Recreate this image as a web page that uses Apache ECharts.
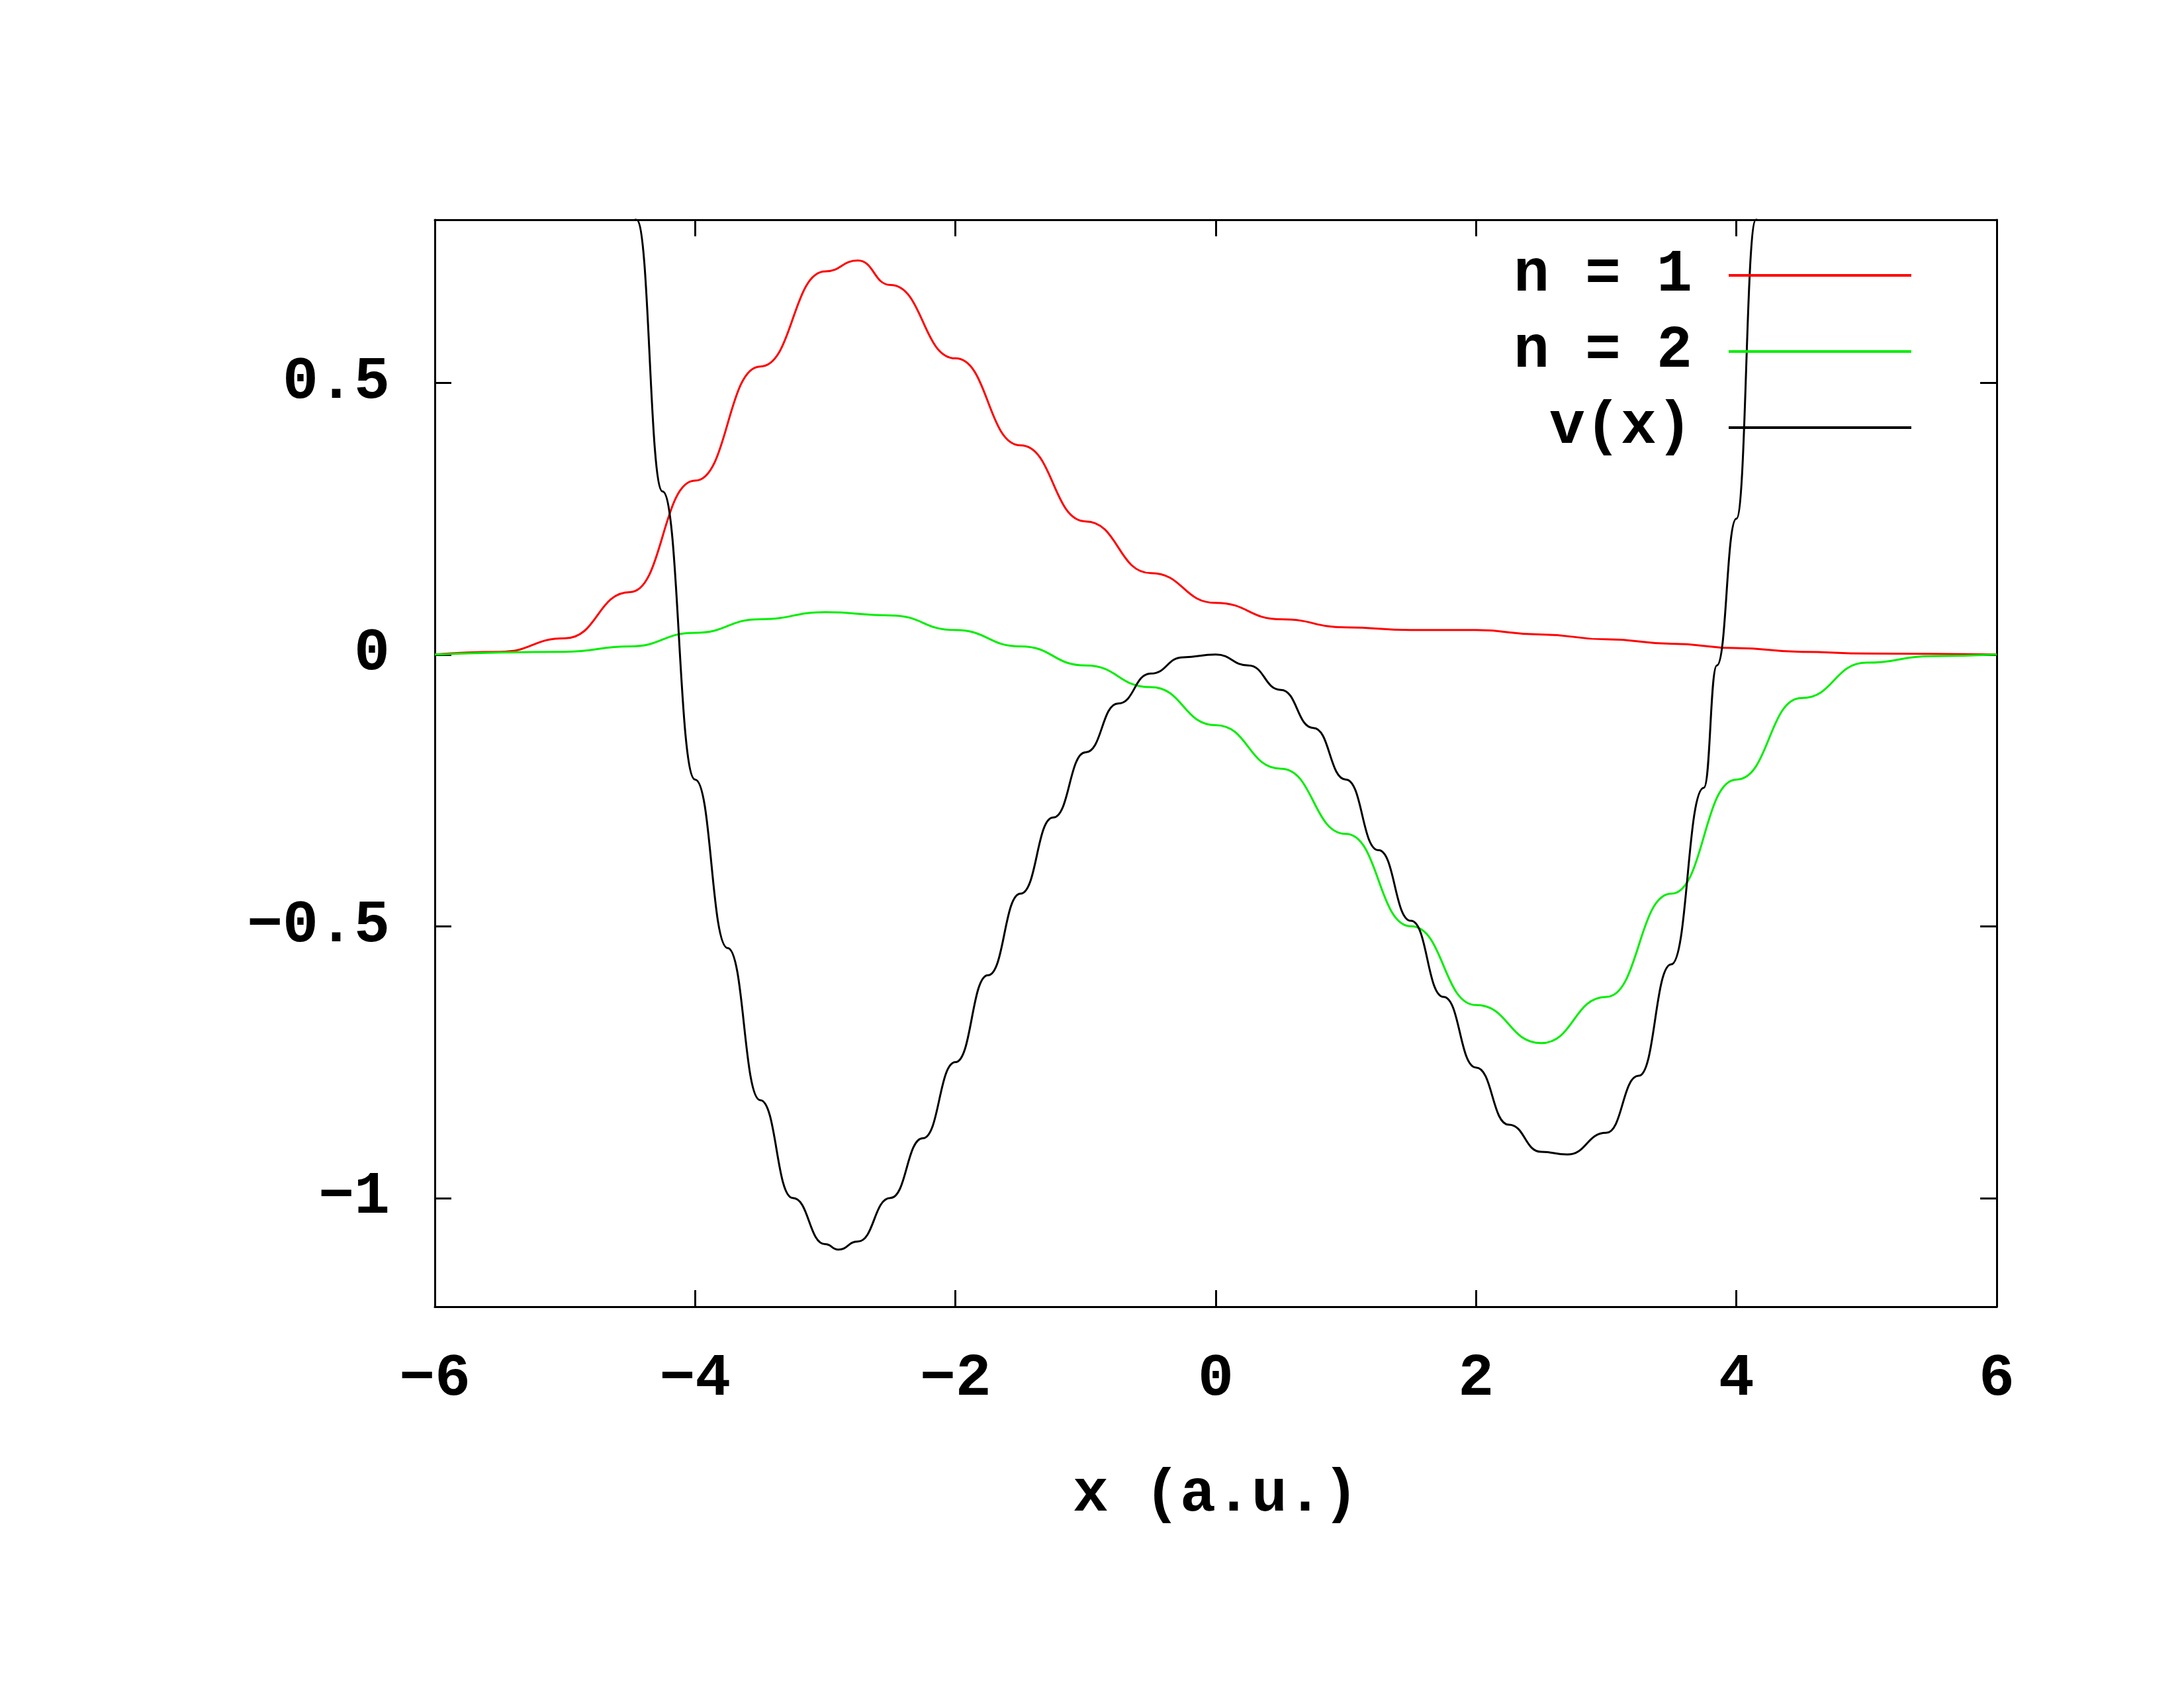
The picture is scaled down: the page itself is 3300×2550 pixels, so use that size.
<!DOCTYPE html>
<html>
<head>
<meta charset="utf-8" />
<title>wavefunctions</title>
<script src="https://cdn.jsdelivr.net/npm/echarts@6/dist/echarts.min.js"></script>
</head>
<body style="margin:0;background:#fff;">
<div id="chart" style="width:3300px;height:2550px;"></div>
<script>
// values
var xN1 = [-6, -5.5, -5, -4.5, -4, -3.5, -3, -2.75, -2.5, -2, -1.5, -1, -0.5, 0, 0.5, 1, 1.5, 2, 2.5, 3, 3.5, 4, 4.5, 5, 6];
var yN1 = [0, 0.005, 0.03, 0.115, 0.32, 0.53, 0.705, 0.725, 0.68, 0.545, 0.385, 0.245, 0.15, 0.095, 0.065, 0.05, 0.045, 0.045, 0.037, 0.028, 0.02, 0.012, 0.005, 0.002, 0];

var xN2 = [-6, -5, -4.5, -4, -3.5, -3, -2.5, -2, -1.5, -1, -0.5, 0, 0.5, 1, 1.5, 2, 2.5, 3, 3.5, 4, 4.5, 5, 5.5, 6];
var yN2 = [0, 0.005, 0.015, 0.04, 0.065, 0.078, 0.072, 0.045, 0.015, -0.02, -0.06, -0.13, -0.21, -0.33, -0.5, -0.645, -0.715, -0.63, -0.44, -0.23, -0.08, -0.015, -0.003, 0];

var xV = [-4.55, -4.45, -4.25, -4, -3.75, -3.5, -3.25, -3, -2.9, -2.75, -2.5, -2.25, -2, -1.75, -1.5, -1.25, -1, -0.75, -0.5, -0.25, 0, 0.25, 0.5, 0.75, 1, 1.25, 1.5, 1.75, 2, 2.25, 2.5, 2.7, 3, 3.25, 3.5, 3.75, 3.85, 4, 4.15, 4.22];
var yV = [1.0, 0.8, 0.3, -0.23, -0.54, -0.82, -1.0, -1.085, -1.095, -1.08, -1.0, -0.89, -0.75, -0.59, -0.44, -0.3, -0.18, -0.09, -0.035, -0.005, 0, -0.02, -0.065, -0.135, -0.23, -0.36, -0.49, -0.63, -0.76, -0.865, -0.915, -0.92, -0.88, -0.775, -0.57, -0.245, -0.02, 0.25, 0.8, 1.0];

var yTicks = [-1, -0.5, 0, 0.5];
var xTicks = [-6, -4, -2, 0, 2, 4, 6];

function pairs(xs, ys) {
	var out = [];
	for (var i = 0; i < xs.length; i++) out.push([xs[i], ys[i]]);
	return out;
}

var font = 'Liberation Mono';
var fs = 90;
var lineAx = {show: true, onZero: false, lineStyle: {color: '#000', width: 3}};
function minus(v) { return String(v).replace('-', '\u2212'); }

var myChart = echarts.init(document.getElementById('chart'));
var option = {
	backgroundColor: '#fff',
	animation: false,
	grid: {left: 657, top: 332, width: 2360, height: 1642},
	legend: {
		right: 407, top: 366, orient: 'vertical', align: 'right',
		itemWidth: 276, itemHeight: 4, itemGap: 25, icon: 'rect',
		textStyle: {fontFamily: font, fontWeight: 'bold', fontSize: fs, color: '#000', padding: [0, 50, 0, 0]},
		data: ['n = 1', 'n = 2', 'v(x)']
	},
	xAxis: [{
		type: 'value', min: -6, max: 6, position: 'bottom',
		name: 'x (a.u.)', nameLocation: 'middle', nameGap: 240,
		nameTextStyle: {fontFamily: font, fontWeight: 'bold', fontSize: fs, color: '#000'},
		axisLine: lineAx,
		axisTick: {show: true, inside: true, length: 25, lineStyle: {color: '#000', width: 3}, customValues: xTicks},
		axisLabel: {fontFamily: font, fontWeight: 'bold', fontSize: fs, color: '#000', margin: 65,
			customValues: xTicks, formatter: minus},
		splitLine: {show: false}
	}, {
		type: 'value', min: -6, max: 6, position: 'top',
		axisLine: lineAx,
		axisTick: {show: true, inside: true, length: 25, lineStyle: {color: '#000', width: 3}, customValues: xTicks},
		axisLabel: {show: false}, splitLine: {show: false}
	}],
	yAxis: [{
		type: 'value', min: -1.2, max: 0.8, position: 'left',
		axisLine: lineAx,
		axisTick: {show: true, inside: true, length: 25, lineStyle: {color: '#000', width: 3}, customValues: yTicks},
		axisLabel: {fontFamily: font, fontWeight: 'bold', fontSize: fs, color: '#000', margin: 68,
			customValues: yTicks, formatter: minus},
		splitLine: {show: false}
	}, {
		type: 'value', min: -1.2, max: 0.8, position: 'right',
		axisLine: lineAx,
		axisTick: {show: true, inside: true, length: 25, lineStyle: {color: '#000', width: 3}, customValues: yTicks},
		axisLabel: {show: false}, splitLine: {show: false}
	}],
	series: [
		{name: 'n = 1', type: 'line', smooth: 0.5, smoothMonotone: 'x', showSymbol: false, clip: true, color: '#ff0000',
			lineStyle: {width: 3}, data: pairs(xN1, yN1)},
		{name: 'n = 2', type: 'line', smooth: 0.5, smoothMonotone: 'x', showSymbol: false, clip: true, color: '#00ee00',
			lineStyle: {width: 3}, data: pairs(xN2, yN2)},
		{name: 'v(x)', type: 'line', smooth: 0.5, smoothMonotone: 'x', showSymbol: false, clip: true, color: '#000000',
			lineStyle: {width: 3}, data: pairs(xV, yV)}
	]
};
myChart.setOption(option);
</script>
</body>
</html>
